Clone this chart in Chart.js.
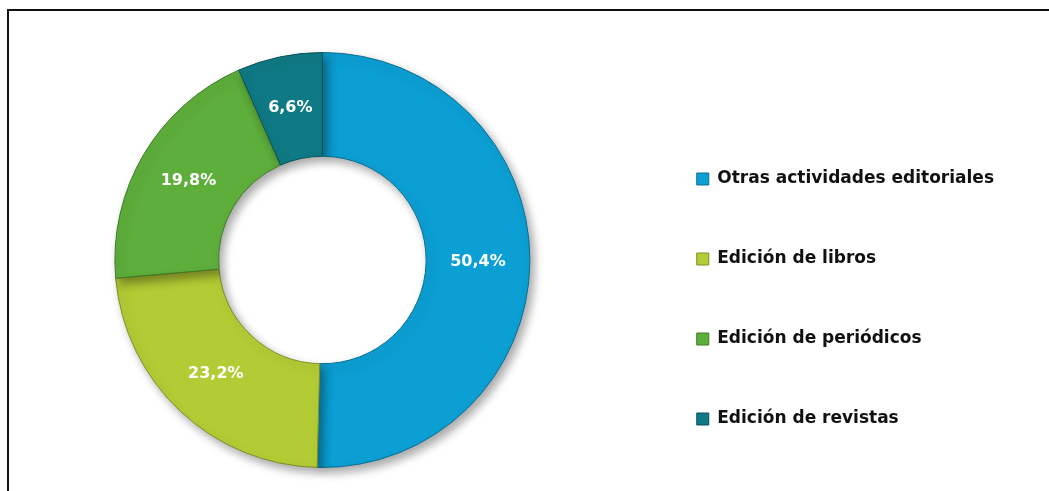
<!DOCTYPE html>
<html>
<head>
<meta charset="utf-8">
<script src="https://cdn.jsdelivr.net/npm/chart.js@4.4.1/dist/chart.umd.min.js"></script>
<style>
  html, body { margin: 0; padding: 0; background: #fff; overflow: hidden; }
  #frame { position: absolute; left: 7px; top: 9px; width: 1060px; height: 500px; border: 2px solid #111; }
  #wrap { position: absolute; left: 0; top: 0; width: 1049px; height: 491px; }
</style>
</head>
<body>
<div id="frame"></div>
<div id="wrap"><canvas id="graf"></canvas></div>
<script>
// categorías y valores (%)
const categorias = ['Otras actividades editoriales', 'Edición de libros', 'Edición de periódicos', 'Edición de revistas'];
const valores = [50.4, 23.2, 19.8, 6.6];
const colores = ['#0c9fd3', '#b3cc35', '#5eae3b', '#0f7a85'];
const bordes = ['#0a6f93', '#7d8f22', '#3f7a27', '#0a5159'];

// etiquetas blancas dentro de cada sector
const etiquetas = {
    id: 'etiquetas',
    afterDatasetsDraw(chart) {
        const ctx = chart.ctx;
        const meta = chart.getDatasetMeta(0);
        ctx.save();
        ctx.fillStyle = '#fff';
        ctx.font = 'bold 16px "DejaVu Sans"';
        ctx.textAlign = 'center';
        ctx.textBaseline = 'middle';
        meta.data.forEach((arc, i) => {
            const p = arc.tooltipPosition();
            ctx.fillText(valores[i].toFixed(1).replace('.', ',') + '%', p.x, p.y);
        });
        ctx.restore();
    }
};

// sombra gris detrás del anillo
const sombra = {
    id: 'sombra',
    beforeDatasetsDraw(chart) {
        const ctx = chart.ctx;
        ctx.save();
        ctx.shadowColor = 'rgba(0,0,0,0.35)';
        ctx.shadowBlur = 10;
        ctx.shadowOffsetX = 4;
        ctx.shadowOffsetY = 5;
    },
    afterDatasetsDraw(chart) {
        chart.ctx.restore();
    }
};

// la leyenda queda un poco más abajo que el centro del anillo
const bajarLeyenda = {
    id: 'bajarLeyenda',
    afterLayout(chart) {
        chart.legend.top += 39;
        chart.legend.bottom += 39;
    }
};

new Chart(document.getElementById('graf'), {
    type: 'doughnut',
    data: {
        labels: categorias,
        datasets: [{
            data: valores,
            backgroundColor: colores,
            borderColor: bordes,
            borderWidth: 1
        }]
    },
    options: {
        responsive: true,
        maintainAspectRatio: false,
        animation: false,
        cutout: '50%',
        layout: { padding: { left: 11, top: 52, bottom: 23, right: 45 } },
        plugins: {
            tooltip: { enabled: false },
            legend: {
                position: 'right',
                align: 'center',
                labels: {
                    boxWidth: 12,
                    boxHeight: 12,
                    padding: 63,
                    color: '#111',
                    font: { family: '"DejaVu Sans"', size: 17, weight: 'bold' }
                }
            }
        }
    },
    plugins: [sombra, etiquetas, bajarLeyenda]
});
</script>
</body>
</html>
